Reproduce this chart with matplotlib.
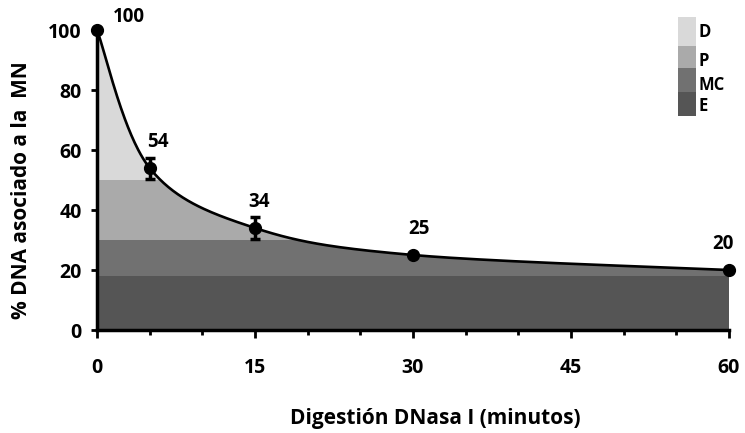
import numpy as np
import matplotlib
matplotlib.use("Agg")
import matplotlib.pyplot as plt
from matplotlib.patches import Polygon, Rectangle
from matplotlib.ticker import MultipleLocator

# ---- data ----
minutes = [0, 5, 15, 30, 60]
dna_pct = [100, 54, 34, 25, 20]
dna_err = [0, 3.5, 3.8, 0, 0]
labels = ["100", "54", "34", "25", "20"]

band_names = ["D", "P", "MC", "E"]
band_low = [50, 30, 18, 0]
band_high = [100, 50, 30, 18]
band_colors = ["#d9d9d9", "#aaaaaa", "#717171", "#555555"]

xticks = [0, 15, 30, 45, 60]
yticks = [0, 20, 40, 60, 80, 100]

plt.rcParams['font.family'] = ['Open Sans', 'DejaVu Sans']
plt.rcParams['font.weight'] = 'bold'

fig = plt.figure(figsize=(7.45, 4.33), dpi=100)
ax = fig.add_axes([97/745, 1-330/433, 632/745, 300/433])

# smoothed curve (Excel-style Catmull-Rom bezier through points)
P = np.column_stack([minutes, dna_pct]).astype(float)
n = len(P)
segs = []
t = np.linspace(0, 1, 60)[:, None]
for i in range(n - 1):
    p0 = P[max(i - 1, 0)]
    p1 = P[i]
    p2 = P[i + 1]
    p3 = P[min(i + 2, n - 1)]
    c1 = p1 + (p2 - p0) / 6.0
    c2 = p2 - (p3 - p1) / 6.0
    b = ((1 - t) ** 3) * p1 + 3 * ((1 - t) ** 2) * t * c1 + 3 * (1 - t) * t ** 2 * c2 + t ** 3 * p2
    segs.append(b if i == 0 else b[1:])
curve = np.vstack(segs)

# clipping polygon under the curve
poly_pts = np.vstack([curve, [[minutes[-1], 0], [minutes[0], 0]]])
clip_poly = Polygon(poly_pts, closed=True, transform=ax.transData, facecolor='none', edgecolor='none')
ax.add_patch(clip_poly)
for lo, hi, c in zip(band_low, band_high, band_colors):
    sp = ax.axhspan(lo, hi, color=c, lw=0, zorder=1)
    sp.set_clip_path(clip_poly)

ax.plot(curve[:, 0], curve[:, 1], color='black', lw=1.9, zorder=3, clip_on=False)
ax.errorbar(minutes, dna_pct, yerr=dna_err, fmt='o', color='black', ms=8.5,
            elinewidth=2.5, capsize=3.5, capthick=2.5, zorder=4, clip_on=False)

offsets = [(23, 9), (6, 19), (3, 19), (4, 19), (-4, 19)]
for x, y, lab, off in zip(minutes, dna_pct, labels, offsets):
    ax.annotate(lab, (x, y), xytext=off, textcoords='offset points',
                ha='center', va='center', fontsize=13.5, fontweight='bold',
                annotation_clip=False)

ax.set_xlim(0, 60)
ax.set_ylim(0, 100)
ax.set_xticks(xticks)
ax.set_yticks(yticks)
ax.xaxis.set_minor_locator(MultipleLocator(5))
for s in ['top', 'right']:
    ax.spines[s].set_visible(False)
for s in ['left', 'bottom']:
    ax.spines[s].set_linewidth(2.5)
ax.tick_params(axis='x', which='major', direction='out', length=5.5, width=2, pad=15, labelsize=14)
ax.tick_params(axis='x', which='minor', direction='out', length=3.5, width=2)
ax.tick_params(axis='y', which='major', direction='out', length=4, width=2, pad=7, labelsize=14)
for lab in ax.get_xticklabels() + ax.get_yticklabels():
    lab.set_fontweight('bold')

ax.set_xlabel("Digestión DNasa I (minutos)", fontsize=15, fontweight='bold')
ax.xaxis.set_label_coords(0.535, -0.26)
ax.set_ylabel("% DNA asociado a la  MN", fontsize=15, fontweight='bold')
ax.yaxis.set_label_coords(-0.119, 0.467)
ax.yaxis.label.set_va('center')

# legend bar (figure pixels converted to fraction)
W, H = 745.0, 433.0
leg_tops = [17, 46, 68, 92]
leg_bots = [46, 68, 92, 116]
leg_text_y = [32, 61, 85, 106]
for name, c, tp, bt, ty in zip(band_names, band_colors, leg_tops, leg_bots, leg_text_y):
    fig.add_artist(Rectangle((678 / W, 1 - bt / H), 18 / W, (bt - tp) / H,
                             transform=fig.transFigure, facecolor=c, edgecolor='none'))
    fig.text(699 / W, 1 - ty / H, name, ha='left', va='center', fontsize=12, fontweight='bold')

fig.savefig("out.png", dpi=100)
